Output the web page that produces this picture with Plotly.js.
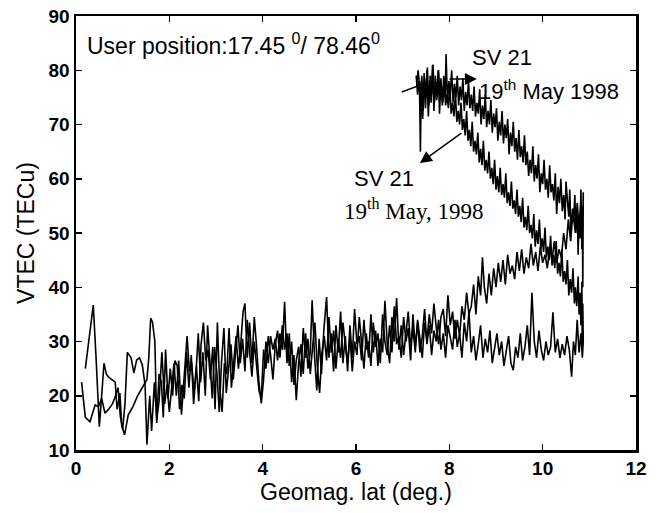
<!DOCTYPE html>
<html>
<head>
<meta charset="utf-8">
<script src="https://cdn.plot.ly/plotly-3.0.1.min.js"></script>
<style>html,body{margin:0;padding:0;background:#fff;}#chart{width:660px;height:513px;}</style>
</head>
<body>
<div id="chart"></div>
<script>
// X tick values / Y tick values
var xTicks = [0, 2, 4, 6, 8, 10, 12];
var yTicks = [10, 20, 30, 40, 50, 60, 70, 80, 90];

// Pass A: outbound (low curve ending ~28 at 10.85)
var passA_out_x = [0.12,0.2,0.3,0.41,0.48,0.55,0.62,0.7,0.78,0.84,0.9,0.95,1.0,1.05,1.1,1.18,1.24,1.3,1.36,1.42,1.48,1.52,1.58,1.62,1.68,1.73,1.78,1.84,1.9,1.95,2.0,2.05,2.1,2.15,2.2,2.26,2.32,2.38,2.43,2.48,2.53,2.58,2.63,2.68,2.73,2.78,2.83,2.88,2.93,2.98,3.03,3.08,3.13,3.18,3.23,3.28,3.33,3.38,3.43,3.48,3.53,3.58,3.62,3.67,3.72,3.77,3.82,3.87,3.92,3.97,4.02,4.07,4.12,4.17,4.22,4.27,4.32,4.37,4.42,4.47,4.52,4.57,4.62,4.67,4.72,4.77,4.82,4.87,4.92,4.97,5.02,5.06,5.11,5.16,5.21,5.26,5.31,5.37,5.42,5.47,5.52,5.57,5.62,5.67,5.72,5.77,5.82,5.87,5.92,5.97,6.02,6.07,6.12,6.17,6.22,6.27,6.32,6.37,6.42,6.47,6.52,6.57,6.62,6.67,6.72,6.77,6.82,6.87,6.92,6.97,7.02,7.07,7.12,7.17,7.22,7.27,7.32,7.37,7.42,7.47,7.52,7.57,7.62,7.67,7.72,7.77,7.82,7.87,7.92,7.97,8.02,8.07,8.12,8.17,8.22,8.27,8.32,8.37,8.42,8.47,8.52,8.57,8.62,8.67,8.72,8.77,8.82,8.87,8.92,8.97,9.02,9.07,9.12,9.17,9.22,9.27,9.32,9.37,9.42,9.47,9.52,9.57,9.62,9.67,9.72,9.77,9.82,9.87,9.92,9.97,10.02,10.07,10.12,10.17,10.22,10.27,10.32,10.37,10.42,10.47,10.52,10.57,10.62,10.66,10.7,10.74,10.78,10.82,10.85];
var passA_out_y = [22.5,16.0,15.2,18.3,18.0,19.5,16.8,17.5,18.5,19.8,21.5,16.2,13.8,18.6,28.0,27.0,24.2,26.6,27.0,25.7,22.0,11.0,20.0,13.5,22.5,15.5,19.0,28.0,18.5,22.0,17.0,21.0,26.0,20.0,26.5,16.5,23.0,31.0,24.5,26.0,20.5,25.5,19.0,29.5,33.5,26.5,28.5,23.0,29.0,17.5,33.5,21.5,17.0,26.0,24.0,32.5,21.5,27.0,31.0,25.0,29.5,35.5,37.0,27.0,33.5,26.0,34.5,29.0,22.5,18.6,23.0,30.0,26.0,31.0,28.5,30.5,26.5,31.5,28.5,37.3,26.0,31.5,22.5,27.5,19.2,26.0,29.5,24.0,31.5,25.0,28.0,37.6,27.5,21.0,30.5,24.0,32.0,38.2,27.0,31.5,24.5,33.0,28.0,35.5,26.0,31.0,24.5,33.0,27.0,36.0,29.5,31.0,26.5,34.0,28.5,30.0,25.5,33.5,29.0,31.5,26.0,35.0,30.0,27.5,33.0,28.0,36.5,29.5,31.0,27.0,34.5,30.0,32.5,26.5,35.0,29.0,33.5,28.0,31.0,36.0,29.5,33.0,27.5,32.0,30.0,34.0,28.5,31.5,27.0,33.0,30.5,28.5,34.0,29.0,31.5,27.0,33.5,30.0,35.5,28.0,31.0,26.5,29.5,33.0,27.0,30.5,28.0,32.0,26.0,29.0,31.5,27.5,30.0,25.5,28.5,31.0,26.0,24.7,29.0,27.0,31.5,26.5,29.0,33.0,27.5,39.0,30.0,27.0,32.0,28.5,26.5,30.0,27.5,29.0,35.4,28.0,30.5,27.0,29.5,27.5,31.0,28.5,23.5,30.0,27.5,34.0,28.0,31.5,27.0];

// Pass A: return leg (middle descending curve)
var passA_back_x = [10.87,10.86,10.85,10.84,10.82,10.8,10.78,10.76,10.73,10.7,10.68,10.65,10.62,10.59,10.56,10.53,10.5,10.47,10.44,10.41,10.38,10.35,10.32,10.29,10.26,10.23,10.2,10.17,10.14,10.11,10.08,10.05,10.02,9.99,9.96,9.93,9.9,9.87,9.84,9.81,9.78,9.75,9.72,9.69,9.66,9.63,9.6,9.57,9.54,9.51,9.48,9.45,9.42,9.39,9.36,9.33,9.3,9.27,9.24,9.21,9.18,9.15,9.12,9.09,9.06,9.03,9.0,8.97,8.94,8.91,8.88,8.85,8.82,8.79,8.76,8.73,8.7,8.67,8.64,8.61,8.58,8.55,8.52,8.49,8.46,8.43,8.4,8.37,8.34,8.31,8.28,8.25,8.22,8.19,8.16,8.13,8.1,8.07,8.04,8.01,7.98,7.95,7.92,7.89,7.86,7.83,7.8,7.77,7.74,7.71,7.68,7.65,7.62,7.59,7.56,7.53,7.5,7.47,7.44,7.41,7.38,7.35,7.32,7.29];
var passA_back_y = [30.0,37.0,27.0,41.0,33.0,39.0,35.0,42.0,36.5,40.0,37.0,43.5,39.0,41.5,38.5,45.0,40.5,43.0,41.0,47.0,42.0,44.5,42.5,48.5,43.5,46.0,44.0,49.5,45.0,47.5,45.5,51.0,46.5,49.0,47.0,52.5,48.0,50.5,47.5,53.5,49.0,51.5,50.0,55.0,50.5,53.0,51.0,56.5,52.0,55.0,53.0,58.0,53.5,56.0,54.5,59.5,55.0,57.5,55.5,61.0,56.5,59.0,57.0,62.0,57.5,60.5,58.0,63.5,59.0,62.0,60.0,65.0,61.0,63.5,61.5,67.0,62.5,65.5,63.0,68.5,64.5,67.0,65.0,70.5,66.0,69.0,67.0,72.5,68.0,71.0,69.0,74.0,70.0,72.5,70.5,76.0,71.5,74.0,72.0,77.0,73.0,75.5,73.5,78.5,74.0,77.0,74.5,80.0,75.0,78.0,74.0,81.0,75.5,79.0,73.5,80.5,75.0,78.5,72.5,79.0,74.0,78.0,75.5,79.0];

// Pass B: outbound (rising curve after ~8.5)
var passB_out_x = [0.2,0.28,0.37,0.43,0.5,0.55,0.6,0.65,0.69,0.76,0.84,0.88,0.94,0.98,1.04,1.12,1.22,1.32,1.42,1.52,1.56,1.6,1.64,1.69,1.73,1.78,1.83,1.87,1.92,1.97,2.02,2.07,2.12,2.17,2.22,2.27,2.32,2.37,2.42,2.47,2.52,2.57,2.62,2.67,2.72,2.77,2.82,2.87,2.92,2.97,3.02,3.07,3.12,3.17,3.22,3.27,3.32,3.37,3.42,3.47,3.52,3.57,3.62,3.67,3.72,3.77,3.82,3.87,3.92,3.97,4.02,4.07,4.12,4.17,4.22,4.27,4.32,4.37,4.42,4.47,4.52,4.57,4.62,4.67,4.72,4.77,4.82,4.87,4.92,4.97,5.02,5.07,5.12,5.17,5.22,5.27,5.32,5.37,5.42,5.47,5.52,5.57,5.62,5.67,5.72,5.77,5.82,5.87,5.92,5.97,6.02,6.07,6.12,6.17,6.22,6.27,6.32,6.37,6.42,6.47,6.52,6.57,6.62,6.67,6.72,6.77,6.82,6.87,6.92,6.97,7.02,7.07,7.12,7.17,7.22,7.27,7.32,7.37,7.42,7.47,7.52,7.57,7.62,7.67,7.72,7.77,7.82,7.87,7.92,7.97,8.02,8.07,8.12,8.17,8.22,8.27,8.32,8.37,8.42,8.47,8.52,8.57,8.62,8.67,8.71,8.75,8.8,8.85,8.9,8.95,9.0,9.05,9.1,9.15,9.2,9.25,9.3,9.35,9.4,9.45,9.5,9.55,9.6,9.65,9.7,9.75,9.8,9.85,9.9,9.95,10.0,10.05,10.1,10.15,10.2,10.25,10.3,10.35,10.4,10.45,10.5,10.55,10.6,10.65,10.7,10.74,10.78,10.82,10.85,10.87];
var passB_out_y = [25.0,30.5,36.7,27.0,14.3,20.0,26.0,24.0,23.5,23.0,22.5,17.5,20.5,14.5,12.8,16.5,18.0,20.0,21.5,23.0,27.0,34.3,33.5,30.0,15.0,24.0,22.5,16.0,28.5,19.5,25.0,20.0,26.5,25.5,17.5,22.0,19.5,28.0,21.5,27.5,18.5,24.0,31.5,22.5,28.0,20.0,33.0,26.0,19.5,29.0,24.0,17.0,26.5,32.5,20.5,25.0,29.5,23.0,28.5,33.0,26.0,30.5,24.5,34.0,28.0,23.5,30.0,25.5,21.0,19.5,28.5,25.0,31.0,27.5,23.0,29.5,32.0,27.0,33.0,28.5,31.5,25.5,30.0,22.0,26.5,29.0,23.5,32.5,27.0,30.5,24.0,29.0,33.5,25.5,20.5,28.0,31.0,26.5,34.5,28.0,32.0,25.0,30.5,27.0,33.5,29.5,26.0,31.0,24.5,30.0,27.5,34.5,29.0,25.0,31.5,27.0,35.0,28.0,32.0,25.5,30.5,28.0,37.5,29.5,26.0,34.5,30.0,38.0,28.5,33.0,27.5,31.0,35.5,29.0,32.5,28.0,34.0,30.5,27.0,33.5,30.0,35.0,31.5,37.0,32.5,29.5,34.5,36.0,31.0,38.5,33.0,35.5,30.5,34.0,31.0,36.5,34.0,39.0,35.0,36.5,40.5,35.0,42.0,38.5,45.5,40.0,37.0,42.5,38.5,43.5,40.0,44.5,41.0,45.0,40.5,46.0,42.5,44.0,41.5,46.5,43.0,47.0,42.5,45.5,43.5,48.0,44.0,46.5,43.0,47.5,44.5,46.0,43.5,47.5,45.0,48.5,44.5,47.0,45.5,50.0,47.0,52.5,48.5,54.0,50.0,55.5,51.0,56.5,48.0,57.5];

// Pass B: return leg (top descending curve)
var passB_back_x = [10.86,10.85,10.84,10.82,10.8,10.78,10.76,10.74,10.71,10.69,10.66,10.64,10.61,10.58,10.56,10.53,10.5,10.48,10.45,10.42,10.39,10.36,10.33,10.3,10.27,10.24,10.21,10.18,10.15,10.12,10.09,10.06,10.03,10.0,9.97,9.94,9.91,9.88,9.85,9.82,9.79,9.76,9.73,9.7,9.67,9.64,9.61,9.58,9.55,9.52,9.49,9.46,9.43,9.4,9.37,9.34,9.31,9.28,9.25,9.22,9.19,9.16,9.13,9.1,9.07,9.04,9.01,8.98,8.95,8.92,8.89,8.86,8.83,8.8,8.77,8.74,8.71,8.68,8.65,8.62,8.59,8.56,8.53,8.5,8.47,8.44,8.41,8.38,8.35,8.32,8.29,8.26,8.23,8.2,8.17,8.14,8.11,8.08,8.05,8.02,7.99,7.96,7.93,7.91,7.88,7.85,7.82,7.79,7.76,7.73,7.7,7.67,7.64,7.61,7.58,7.55,7.52,7.49,7.46,7.43,7.4,7.38,7.36,7.33,7.3,6.98];
var passB_back_y = [40.0,55.0,47.0,58.0,49.0,53.0,46.0,55.0,50.0,57.0,52.0,54.5,49.5,58.0,53.0,56.0,59.5,52.5,57.0,54.0,60.0,55.5,58.5,53.5,61.0,56.0,59.0,57.5,62.5,56.5,60.0,58.0,63.5,59.0,61.0,57.5,64.5,60.0,62.5,59.5,66.0,61.0,63.5,60.5,65.0,62.5,68.0,63.0,66.0,64.0,69.0,63.5,67.5,65.0,70.5,66.0,68.5,64.5,71.0,67.5,70.0,66.5,72.5,68.0,70.5,67.0,73.0,69.5,72.0,68.5,74.5,70.0,72.5,69.5,75.5,71.0,73.5,70.0,76.5,72.0,74.0,71.5,77.0,72.5,75.5,73.0,78.0,73.5,76.0,72.5,78.5,74.5,77.0,73.5,79.0,75.0,77.5,74.0,80.0,75.5,78.0,74.0,83.0,75.0,79.0,73.5,78.5,72.0,80.0,74.5,79.0,72.5,81.0,74.0,78.0,71.5,80.0,73.0,79.5,71.0,78.0,65.0,77.5,80.0,77.0,76.0];

var traceA = {
  x: passA_out_x.concat(passA_back_x),
  y: passA_out_y.concat(passA_back_y),
  type: 'scatter', mode: 'lines',
  line: {color: '#000', width: 1.6},
  hoverinfo: 'skip'
};
var traceB = {
  x: passB_out_x.concat(passB_back_x),
  y: passB_out_y.concat(passB_back_y),
  type: 'scatter', mode: 'lines',
  line: {color: '#000', width: 1.6},
  hoverinfo: 'skip'
};

var sans = 'Liberation Sans, Arial, Helvetica, sans-serif';
var serif = 'Liberation Serif, Times New Roman, serif';

var layout = {
  width: 660, height: 513,
  margin: {l: 76, r: 24, t: 16, b: 63},
  paper_bgcolor: '#fff', plot_bgcolor: '#fff',
  showlegend: false,
  xaxis: {
    range: [0, 12], tickvals: xTicks, ticktext: xTicks.map(function (v) { return '<b>' + v + '</b>'; }),
    showline: true, mirror: 'ticks', linecolor: '#000', linewidth: 2.5,
    ticks: 'inside', ticklen: 6, tickwidth: 1.5, tickcolor: '#000',
    showgrid: false, zeroline: false,
    tickfont: {family: sans, size: 19, color: '#000'},
    title: {text: 'Geomag. lat (deg.)', font: {family: sans, size: 23, color: '#000'}, standoff: 5}
  },
  yaxis: {
    range: [10, 90], tickvals: yTicks, ticktext: yTicks.map(function (v) { return '<b>' + v + '</b>'; }),
    showline: true, mirror: 'ticks', linecolor: '#000', linewidth: 2.5,
    ticks: 'inside', ticklen: 6, tickwidth: 1.5, tickcolor: '#000',
    showgrid: false, zeroline: false,
    tickfont: {family: sans, size: 19, color: '#000'},
    title: {text: 'VTEC (TECu)', font: {family: sans, size: 23, color: '#000'}, standoff: 8}
  },
  annotations: [
    {x: 0.19, y: 84.8, xref: 'x', yref: 'y', xanchor: 'left', yanchor: 'middle', showarrow: false,
     text: 'User position:17.45 <sup>0</sup>/ 78.46<sup>0</sup>', font: {family: sans, size: 23, color: '#000'}},
    {x: 9.13, y: 82.3, xref: 'x', yref: 'y', xanchor: 'center', yanchor: 'middle', showarrow: false,
     text: 'SV 21', font: {family: sans, size: 22, color: '#000'}},
    {x: 8.59, y: 76.4, xref: 'x', yref: 'y', xanchor: 'left', yanchor: 'middle', showarrow: false,
     text: '19<sup>th</sup> May 1998', font: {family: sans, size: 22, color: '#000'}},
    {x: 6.6, y: 60.0, xref: 'x', yref: 'y', xanchor: 'center', yanchor: 'middle', showarrow: false,
     text: 'SV 21', font: {family: sans, size: 22, color: '#000'}},
    {x: 5.7, y: 54.3, xref: 'x', yref: 'y', xanchor: 'left', yanchor: 'middle', showarrow: false,
     text: '19<sup>th</sup> May, 1998', font: {family: serif, size: 23, color: '#000'}},
    {x: 8.59, y: 78.4, ax: 7.97, ay: 78.4, xref: 'x', yref: 'y', axref: 'x', ayref: 'y',
     text: '', showarrow: true, arrowhead: 2, arrowsize: 1.6, arrowwidth: 1.5, arrowcolor: '#000'},
    {x: 7.37, y: 62.9, ax: 8.29, ay: 68.6, xref: 'x', yref: 'y', axref: 'x', ayref: 'y',
     text: '', showarrow: true, arrowhead: 2, arrowsize: 1.6, arrowwidth: 1.5, arrowcolor: '#000'}
  ]
};

Plotly.newPlot('chart', [traceA, traceB], layout, {staticPlot: true, displayModeBar: false});
</script>
</body>
</html>
